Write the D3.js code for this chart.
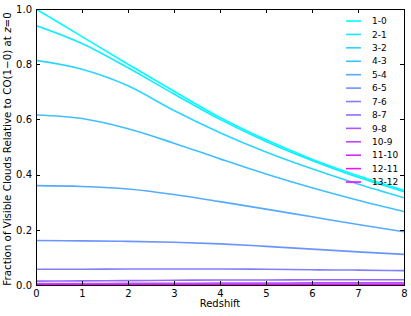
<!DOCTYPE html>
<meta charset="utf-8">
<style>
body{ margin:0; background:#fff; }
svg text{ font-family:"DejaVu Sans", sans-serif; fill:#000; }
.axis path{ display:none; }
.axis line{ stroke:#000; stroke-width:1px; shape-rendering:crispEdges; }
.axis text{ font-size:10px; }
.frame{ fill:none; stroke:#000; stroke-width:1px; shape-rendering:crispEdges; }
.curve{ fill:none; stroke-width:1.6px; }
.legend text{ font-size:9px; }
</style>
<body>
<script src="https://cdn.jsdelivr.net/npm/d3@7"></script>
<script>
// redshift grid and CO transitions
var redshift = [0, 1, 2, 3, 4, 5, 6, 7, 8];
var transitions = ["1-0","2-1","3-2","4-3","5-4","6-5","7-6","8-7","9-8","10-9","11-10","12-11","13-12"];

// fraction of visible clouds relative to CO(1-0) at z=0
var f10   = [1.000, 0.900, 0.800, 0.702, 0.607, 0.526, 0.456, 0.396, 0.343];
var f21   = [0.940, 0.875, 0.787, 0.692, 0.600, 0.520, 0.451, 0.390, 0.338];
var f32   = [0.814, 0.782, 0.722, 0.632, 0.552, 0.482, 0.421, 0.366, 0.316];
var f43   = [0.616, 0.603, 0.566, 0.514, 0.457, 0.402, 0.352, 0.307, 0.266];
var f54   = [0.360, 0.357, 0.348, 0.328, 0.302, 0.275, 0.247, 0.219, 0.193];
var f65   = [0.161, 0.160, 0.158, 0.155, 0.149, 0.140, 0.130, 0.120, 0.111];
var f76   = [0.057, 0.057, 0.058, 0.058, 0.058, 0.057, 0.055, 0.054, 0.052];
var f87   = [0.014, 0.015, 0.016, 0.017, 0.018, 0.018, 0.019, 0.019, 0.019];
var f98   = [0.005, 0.005, 0.006, 0.006, 0.007, 0.007, 0.008, 0.008, 0.008];
var f109  = [0.002, 0.002, 0.002, 0.002, 0.003, 0.003, 0.003, 0.003, 0.003];
var f1110 = [0.001, 0.001, 0.001, 0.001, 0.001, 0.001, 0.001, 0.001, 0.001];
var f1211 = [0.000, 0.000, 0.000, 0.000, 0.000, 0.000, 0.000, 0.000, 0.000];
var f1312 = [0.000, 0.000, 0.000, 0.000, 0.000, 0.000, 0.000, 0.000, 0.000];

var series = [f10, f21, f32, f43, f54, f65, f76, f87, f98, f109, f1110, f1211, f1312];

var W = 411, H = 316;
var m = {l:36, r:7, t:9, b:31};
var pw = W - m.l - m.r, ph = H - m.t - m.b;

var x = d3.scaleLinear().domain([0, 8]).range([0, pw]);
var y = d3.scaleLinear().domain([0, 1]).range([ph, 0]);

// matplotlib "cool" colormap: cyan -> magenta
function cool(t){ return d3.rgb(255*t, 255*(1-t), 255).formatHex(); }
var color = d3.scaleOrdinal().domain(transitions)
  .range(transitions.map(function(d,i){ return cool(i/(transitions.length-1)); }));

var svg = d3.select("body").append("svg").attr("width", W).attr("height", H);
var g = svg.append("g").attr("transform", "translate("+m.l+","+m.t+")");

svg.append("defs").append("clipPath").attr("id","clip")
  .append("rect").attr("width", pw).attr("height", ph);

var line = d3.line()
  .x(function(d,i){ return x(redshift[i]); })
  .y(function(d){ return y(d); })
  .curve(d3.curveMonotoneX);

g.append("g").attr("clip-path","url(#clip)").selectAll("path").data(series).enter().append("path")
  .attr("class","curve")
  .attr("d", line)
  .attr("stroke", function(d,i){ return color(transitions[i]); });

// axes, ticks pointing inward on all four sides
var xt = [0,1,2,3,4,5,6,7,8], yt = [0,0.2,0.4,0.6,0.8,1.0];
g.append("g").attr("class","axis").attr("transform","translate(0,"+ph+")")
  .call(d3.axisBottom(x).tickValues(xt).tickFormat(d3.format("d")).tickSizeInner(-4).tickSizeOuter(0).tickPadding(5));
g.append("g").attr("class","axis")
  .call(d3.axisLeft(y).tickValues(yt).tickFormat(d3.format(".1f")).tickSizeInner(-4).tickSizeOuter(0).tickPadding(4));
g.append("g").attr("class","axis")
  .call(d3.axisTop(x).tickValues(xt).tickFormat("").tickSizeInner(-4).tickSizeOuter(0));
g.append("g").attr("class","axis").attr("transform","translate("+pw+",0)")
  .call(d3.axisRight(y).tickValues(yt).tickFormat("").tickSizeInner(-4).tickSizeOuter(0));

g.append("rect").attr("class","frame").attr("width", pw).attr("height", ph);

// axis labels
svg.append("text").attr("x", m.l + pw/2).attr("y", 307).attr("text-anchor","middle")
  .style("font-size","10px").text("Redshift");

var yl = svg.append("text").attr("transform","translate(11,149) rotate(-90)")
  .attr("text-anchor","middle").style("font-size","10.3px");
yl.append("tspan").text("Fraction of Visible Clouds Relative to CO(1\u22120) at ");
yl.append("tspan").style("font-style","italic").text("z");
yl.append("tspan").text("=0");

// legend, no frame
var leg = svg.append("g").attr("class","legend");
var le = leg.selectAll("g").data(transitions).enter().append("g")
  .attr("transform", function(d,i){ return "translate(346,"+(21 + i*13.42)+")"; });
le.append("line").attr("x1",0).attr("x2",15).attr("y1",0).attr("y2",0)
  .attr("stroke", function(d){ return color(d); }).attr("stroke-width",1.6);
le.append("text").attr("x",26).attr("y",0).attr("dy","0.35em").text(function(d){ return d; });
</script>
</body>
